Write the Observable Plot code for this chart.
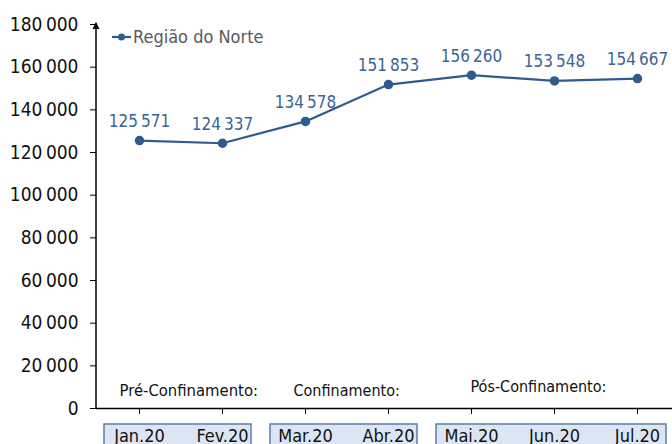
<!DOCTYPE html>
<html>
<head>
<meta charset="utf-8">
<script src="https://cdn.jsdelivr.net/npm/d3@7"></script>
<script src="https://cdn.jsdelivr.net/npm/@observablehq/plot@0.6"></script>
<style>
  html, body { margin: 0; padding: 0; background: #fff; }
  #chart svg { display: block; }
</style>
</head>
<body>
<div id="chart"></div>
<script>
const months = ["Jan.20", "Fev.20", "Mar.20", "Abr.20", "Mai.20", "Jun.20", "Jul.20"];
const values = [125571, 124337, 134578, 151853, 156260, 153548, 154667];
const seriesName = "Região do Norte";
const yTicks = [0, 20000, 40000, 60000, 80000, 100000, 120000, 140000, 160000, 180000];
const phaseNames = ["Pré-Confinamento:", "Confinamento:", "Pós-Confinamento:"];
const phaseStart = ["Jan.20", "Mar.20", "Mai.20"];
const phaseEnd = ["Fev.20", "Abr.20", "Jul.20"];

const data = months.map((m, i) => ({month: m, value: values[i]}));
const phases = phaseNames.map((n, i) => ({name: n, start: phaseStart[i], end: phaseEnd[i]}));

const FONT = "'DejaVu Sans', sans-serif";
const LINE = "#2f5b8f";
const LABEL = "#3a6494";
const fmt = d => d3.format(",")(d).replace(/,/g, "\u2009");

const chart = Plot.plot({
  width: 672,
  height: 444,
  marginLeft: 96,
  marginRight: 0,
  marginTop: 24,
  marginBottom: 36,
  style: {fontFamily: FONT, fontStretch: "condensed", fontSize: "18px", color: "#000", background: "#fff", overflow: "visible"},
  x: {type: "point", domain: months, range: [137.5, 637.5], padding: 0},
  y: {domain: [0, 180000], range: [408, 24], label: null},
  marks: [
    Plot.rect(phases, {x1: "start", x2: "end", insetLeft: -35, insetRight: -29, insetTop: 400, insetBottom: -40,
      fill: "#dce6f2", stroke: "#5b7ea8", strokeWidth: 1.5}),
    Plot.axisX({tickSize: 6, tickPadding: 15, fontSize: 18, fill: "#111", stroke: "#000", label: null}),
    Plot.axisY({ticks: yTicks, tickFormat: fmt, tickSize: 6, tickPadding: 12, fontSize: 19, fill: "#111", stroke: "#000", label: null}),
    Plot.ruleY([0], {stroke: "#000", strokeWidth: 1.5}),
    Plot.text([phases[0]], {x: "start", text: "name", frameAnchor: "bottom", textAnchor: "start", dx: -20, dy: -13, fontSize: 16.5, fill: "#111"}),
    Plot.text([phases[1]], {x: "start", text: "name", frameAnchor: "bottom", textAnchor: "start", dx: -12, dy: -13, fontSize: 16, fill: "#111"}),
    Plot.text([phases[2]], {x: "start", text: "name", frameAnchor: "bottom", textAnchor: "start", dx: -1, dy: -17, fontSize: 16, fill: "#111"}),
    Plot.line(data, {x: "month", y: "value", stroke: LINE, strokeWidth: 2.2}),
    Plot.dot(data, {x: "month", y: "value", r: 4, fill: LINE, stroke: LINE}),
    Plot.text(data, {x: "month", y: "value", text: d => fmt(d.value), dy: -19, fontSize: 17, fill: LABEL})
  ]
});

// y axis line with arrowhead, and legend
const svg = d3.select(chart);
const ys = chart.scale("y");
const x0 = 96, yTop = ys.apply(180000), yBot = ys.apply(0);
svg.append("line").attr("x1", x0).attr("x2", x0).attr("y1", yBot).attr("y2", yTop - 1)
  .attr("stroke", "#000").attr("stroke-width", 1.5);
svg.append("path").attr("d", `M${x0 - 3.5},${yTop + 5}L${x0},${yTop - 2}L${x0 + 3.5},${yTop + 5}Z`).attr("fill", "#000");

const lg = svg.append("g");
lg.append("line").attr("x1", 112).attr("x2", 131).attr("y1", 37).attr("y2", 37).attr("stroke", LINE).attr("stroke-width", 2.2);
lg.append("circle").attr("cx", 121.5).attr("cy", 37).attr("r", 3.5).attr("fill", LINE);
lg.append("text").attr("x", 133).attr("y", 37).attr("dy", "0.35em").attr("font-size", 18).attr("fill", "#595959")
  .attr("text-anchor", "start").attr("font-family", FONT).attr("font-stretch", "condensed").text(seriesName);

document.getElementById("chart").appendChild(chart);
</script>
</body>
</html>
